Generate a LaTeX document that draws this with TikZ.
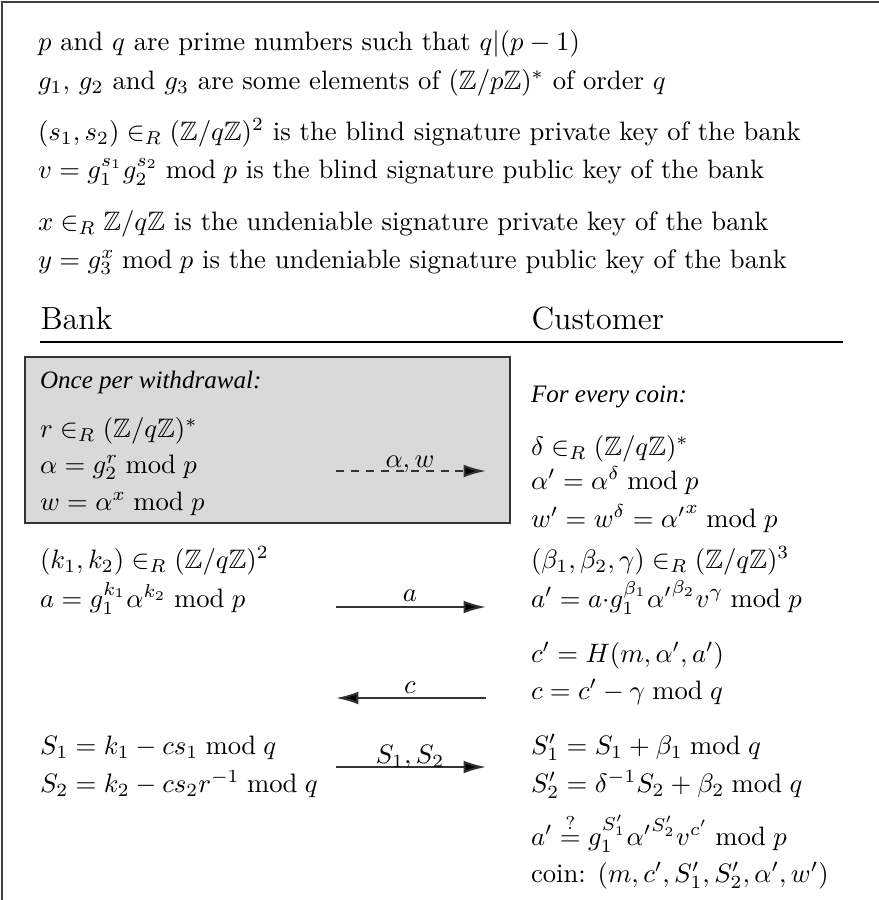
\documentclass[tikz,border=0pt]{standalone}
\usepackage{amsmath,amssymb}
\usepackage{fontspec}
\newfontfamily\timesit{Liberation Serif Italic}
\usetikzlibrary{arrows.meta}
\tikzset{
  txt/.style={anchor=base west, inner sep=0pt, outer sep=0pt},
  lbl/.style={anchor=base, inner sep=0pt, outer sep=0pt},
  msg/.style={line width=0.75pt, draw=black!80, -{Latex[length=8.4pt,width=4.8pt,fill=black]}},
  frameline/.style={line width=0.6pt, draw=black!75},
  hdr/.style={anchor=base west, inner sep=0pt, font=\large},
}
\newcommand{\ZZ}{\mathbb{Z}}
\newcommand{\phasetxt}[1]{{\timesit\fontsize{9.4}{11}\selectfont #1}}
\begin{document}
\begin{tikzpicture}[x=0.375pt, y=-0.375pt]
\useasboundingbox (0,0) rectangle (879,900);
% frame (only top and left edges visible)
\draw[frameline] (2,905) -- (2,2) -- (885,2);
% header text
\node[txt] (h1) at (38,50) {$p$ and $q$ are prime numbers such that $q|(p-1)$};
\node[txt] (h2) at (38,89) {$g_1$, $g_2$ and $g_3$ are some elements of $(\ZZ/p\ZZ)^*$ of order $q$};
\node[txt] (h3) at (38,140) {$(s_1,s_2)\in_R(\ZZ/q\ZZ)^2$ is the blind signature private key of the bank};
\node[txt] (h4) at (38,178) {$v=g_1^{s_1}g_2^{s_2}\bmod p$ is the blind signature public key of the bank};
\node[txt] (h5) at (38,230) {$x\in_R \ZZ/q\ZZ$ is the undeniable signature private key of the bank};
\node[txt] (h6) at (38,268) {$y=g_3^{x}\bmod p$ is the undeniable signature public key of the bank};
% column headers
\node[hdr] (bank) at (40,329) {Bank};
\node[hdr] (cust) at (531,329) {Customer};
\coordinate (ruleL) at (40,342);
\coordinate (ruleR) at (843,342);
\draw[line width=0.75pt] (ruleL) -- (ruleR);
% gray box
\draw[fill=black!15, draw=black!80, line width=0.6pt] (25,357) rectangle (510,523);
% bank column
\node[txt] (once) at (40,388) {\phasetxt{Once per withdrawal:}};
\node[txt] (b1) at (40,437) {$r\in_R(\ZZ/q\ZZ)^*$};
\node[txt] (b2) at (40,473) {$\alpha=g_2^{r}\bmod p$};
\node[txt] (b3) at (40,510) {$w=\alpha^{x}\bmod p$};
\node[txt] (b4) at (40,568) {$(k_1,k_2)\in_R(\ZZ/q\ZZ)^2$};
\node[txt] (b5) at (40,607) {$a=g_1^{k_1}\alpha^{k_2}\bmod p$};
\node[txt] (b6) at (40,754) {$S_1=k_1-cs_1\bmod q$};
\node[txt] (b7) at (40,792) {$S_2=k_2-cs_2r^{-1}\bmod q$};
% customer column
\node[txt] (every) at (531,402) {\phasetxt{For every coin:}};
\node[txt] (c1) at (531,455) {$\delta\in_R(\ZZ/q\ZZ)^*$};
\node[txt] (c2) at (531,489) {$\alpha'=\alpha^{\delta}\bmod p$};
\node[txt] (c3) at (531,527) {$w'=w^{\delta}={\alpha'}^{x}\bmod p$};
\node[txt] (c4) at (531,568) {$(\beta_1,\beta_2,\gamma)\in_R(\ZZ/q\ZZ)^3$};
\node[txt] (c5) at (531,607) {$a'=a{\cdot}g_1^{\beta_1}{\alpha'}^{\beta_2}v^{\gamma}\bmod p$};
\node[txt] (c6) at (531,662) {$c'=H(m,\alpha',a')$};
\node[txt] (c7) at (531,699) {$c=c'-\gamma\bmod q$};
\node[txt] (c8) at (531,754) {$S_1'=S_1+\beta_1\bmod q$};
\node[txt] (c9) at (531,792) {$S_2'=\delta^{-1}S_2+\beta_2\bmod q$};
\node[txt] (c10) at (531,845) {$a'\stackrel{?}{=}g_1^{S_1'}{\alpha'}^{S_2'}v^{c'}\bmod p$};
\node[txt] (c11) at (531,882) {coin: $(m,c',S_1',S_2',\alpha',w')$};
% messages
\coordinate (m1s) at (336,471); \coordinate (m1e) at (486,471);
\draw[msg, dash pattern=on 3pt off 2.6pt] (m1s) -- (m1e);
\node[lbl] (l1) at (410,467) {$\alpha,w$};
\coordinate (m2s) at (336,607); \coordinate (m2e) at (486,607);
\draw[msg] (m2s) -- (m2e);
\node[lbl] (l2) at (410,601) {$a$};
\coordinate (m3s) at (486,698); \coordinate (m3e) at (336,698);
\draw[msg] (m3s) -- (m3e);
\node[lbl] (l3) at (410,693) {$c$};
\coordinate (m4s) at (336,767); \coordinate (m4e) at (486,767);
\draw[msg] (m4s) -- (m4e);
\node[lbl] (l4) at (410,763) {$S_1,S_2$};
\end{tikzpicture}
\end{document}
